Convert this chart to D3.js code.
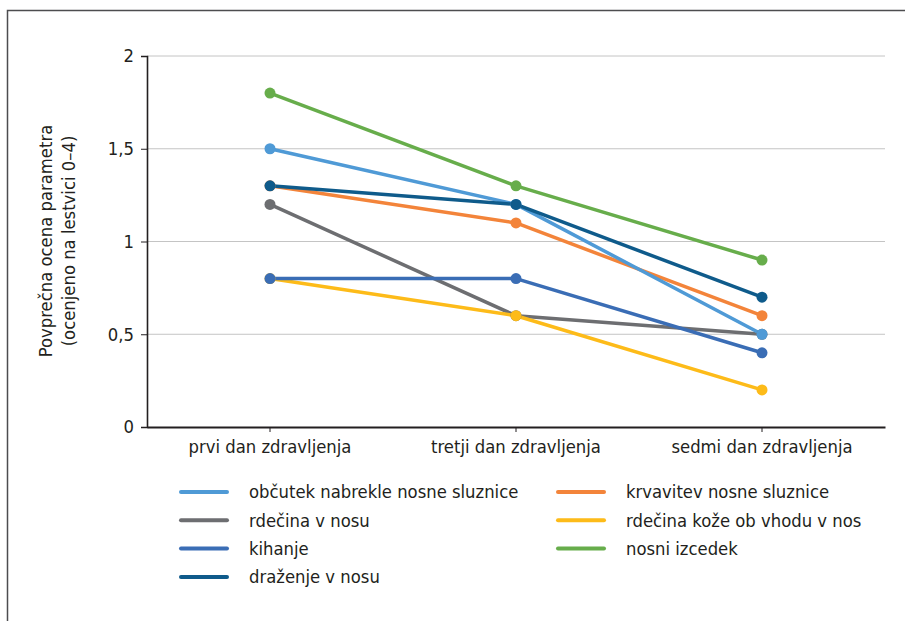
<!DOCTYPE html>
<html>
<head>
<meta charset="utf-8">
<script src="https://cdn.jsdelivr.net/npm/d3@7"></script>
<style>
  html, body { margin: 0; padding: 0; background: #fff; }
  svg { display: block; }
  text { font-family: "DejaVu Sans Condensed", "DejaVu Sans", sans-serif; fill: #231f20; }
</style>
</head>
<body>
<svg id="chart" width="905" height="621"></svg>
<script>
// Days of treatment (x categories)
const days = ["prvi dan zdravljenja", "tretji dan zdravljenja", "sedmi dan zdravljenja"];

// Average symptom score per day (scale 0–4)
const obcutek   = [1.5, 1.2, 0.5];
const krvavitev = [1.3, 1.1, 0.6];
const rdecina   = [1.2, 0.6, 0.5];
const rdecinaKoze = [0.8, 0.6, 0.2];
const kihanje   = [0.8, 0.8, 0.4];
const izcedek   = [1.8, 1.3, 0.9];
const drazenje  = [1.3, 1.2, 0.7];

const yTicks = [0, 0.5, 1, 1.5, 2];
const yTickLabels = ["0", "0,5", "1", "1,5", "2"];

const series = [
  { name: "rdečina v nosu", values: rdecina, color: "#6d6e71" },
  { name: "rdečina kože ob vhodu v nos", values: rdecinaKoze, color: "#fdbb19" },
  { name: "krvavitev nosne sluznice", values: krvavitev, color: "#f3843a" },
  { name: "občutek nabrekle nosne sluznice", values: obcutek, color: "#4f9ad6" },
  { name: "kihanje", values: kihanje, color: "#3a6db5" },
  { name: "draženje v nosu", values: drazenje, color: "#0f5b8b" },
  { name: "nosni izcedek", values: izcedek, color: "#67ad4b" }
];

// Legend layout: two columns
const legendCols = [
  ["občutek nabrekle nosne sluznice", "rdečina v nosu", "kihanje", "draženje v nosu"],
  ["krvavitev nosne sluznice", "rdečina kože ob vhodu v nos", "nosni izcedek"]
];

const FS = 18.3;
const svg = d3.select("#chart");

// outer frame
svg.append("path")
  .attr("d", "M7.5,621 L7.5,10.5 L905,10.5")
  .attr("fill", "none").attr("stroke", "#4d4d4f").attr("stroke-width", 1.5);

const margin = { left: 147, right: 885, top: 56, bottom: 427 };

const x = d3.scaleBand().domain(days).range([margin.left, margin.right]);
const y = d3.scaleLinear().domain([0, 2]).range([margin.bottom, margin.top]);

// gridlines
svg.append("g").selectAll("line").data(yTicks.filter(d => d > 0)).join("line")
  .attr("x1", margin.left).attr("x2", margin.right)
  .attr("y1", d => y(d)).attr("y2", d => y(d))
  .attr("stroke", "#c4c4c4").attr("stroke-width", 1);

// y axis
const yAxis = svg.append("g").attr("transform", `translate(${margin.left},0)`)
  .call(d3.axisLeft(y).tickValues(yTicks)
    .tickFormat((d, i) => yTickLabels[i]).tickSize(6).tickPadding(7));
yAxis.select(".domain").attr("stroke", "#231f20").attr("stroke-width", 1.6);
yAxis.selectAll(".tick line").attr("stroke", "#231f20").attr("stroke-width", 1);
yAxis.selectAll("text").attr("font-size", FS).attr("font-family", null).attr("fill", "#231f20");

// x axis
const xAxis = svg.append("g").attr("transform", `translate(0,${margin.bottom})`)
  .call(d3.axisBottom(x).tickSize(5).tickSizeOuter(0).tickPadding(8));
xAxis.select(".domain").attr("stroke", "#231f20").attr("stroke-width", 2);
xAxis.selectAll(".tick line").attr("stroke", "#231f20").attr("stroke-width", 1);
xAxis.selectAll("text").attr("font-size", FS).attr("font-family", null).attr("fill", "#231f20");

// y axis title
const yTitle = svg.append("text")
  .attr("transform", "translate(52,241) rotate(-90)")
  .attr("text-anchor", "middle").attr("font-size", FS);
yTitle.append("tspan").attr("x", 0).attr("dy", 0).text("Povprečna ocena parametra");
yTitle.append("tspan").attr("x", 0).attr("dy", 23).text("(ocenjeno na lestvici 0–4)");

// lines and markers
const line = d3.line().x((d, i) => x(days[i]) + x.bandwidth() / 2).y(d => y(d));

const g = svg.append("g");
series.forEach(s => {
  g.append("path").datum(s.values)
    .attr("d", line).attr("fill", "none")
    .attr("stroke", s.color).attr("stroke-width", 3.5).attr("stroke-linejoin", "round");
});
series.forEach(s => {
  g.append("g").selectAll("circle").data(s.values).join("circle")
    .attr("cx", (d, i) => x(days[i]) + x.bandwidth() / 2)
    .attr("cy", d => y(d)).attr("r", 5.5).attr("fill", s.color);
});

// legend
const colorOf = Object.fromEntries(series.map(s => [s.name, s.color]));
const colX = [181, 558];
legendCols.forEach((col, ci) => {
  col.forEach((name, ri) => {
    const yy = 492 + ri * 28.3;
    svg.append("line")
      .attr("x1", colX[ci]).attr("x2", colX[ci] + 46)
      .attr("y1", yy).attr("y2", yy)
      .attr("stroke", colorOf[name]).attr("stroke-width", 4).attr("stroke-linecap", "round");
    svg.append("text")
      .attr("x", colX[ci] + 68).attr("y", yy).attr("dy", "0.35em")
      .attr("font-size", FS).text(name);
  });
});
</script>
</body>
</html>
